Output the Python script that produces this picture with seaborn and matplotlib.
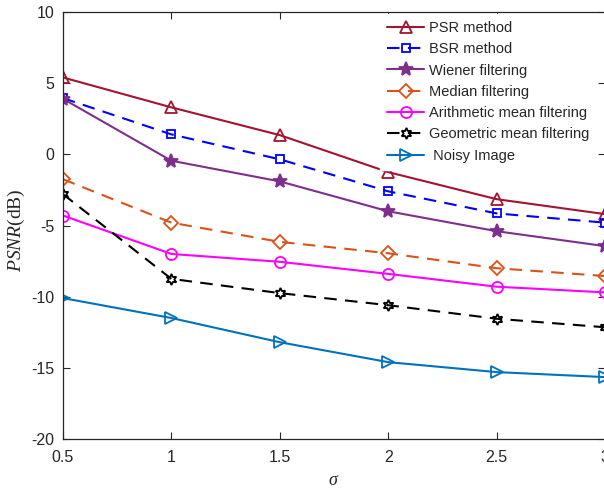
import matplotlib
matplotlib.use("Agg")
import matplotlib.pyplot as plt
import seaborn as sns
import pandas as pd

sigma = [0.5, 1.0, 1.5, 2.0, 2.5, 3.0]
psr = [5.4, 3.3, 1.35, -1.25, -3.15, -4.2]
bsr = [3.95, 1.4, -0.35, -2.6, -4.15, -4.8]
wiener = [3.9, -0.45, -1.9, -4.0, -5.4, -6.45]
median = [-1.75, -4.8, -6.15, -6.95, -8.0, -8.55]
arith = [-4.3, -7.0, -7.55, -8.4, -9.3, -9.7]
geom = [-2.8, -8.75, -9.75, -10.6, -11.55, -12.15]
noisy = [-10.1, -11.5, -13.2, -14.6, -15.3, -15.65]

labels = ["PSR method", "BSR method", "Wiener filtering", "Median filtering",
          "Arithmetic mean filtering", "Geometric mean filtering", " Noisy Image"]
series = [psr, bsr, wiener, median, arith, geom, noisy]
colors = ["#A2142F", "#0000FF", "#7E2F8E", "#D95319", "#FF00FF", "#000000", "#0072BD"]
markers = ["^", "s", "*", "D", "o", (6, 1, 0), ">"]
msizes = [9, 6, 10, 7, 8, 8, 9]
filled = [False, False, True, False, False, False, False]
dashed = [False, True, False, True, False, True, False]

sns.set_style("ticks")
plt.rcParams['font.family'] = ['Liberation Sans', 'DejaVu Sans']
plt.rcParams['mathtext.fontset'] = 'custom'
plt.rcParams['mathtext.rm'] = 'Liberation Serif'
plt.rcParams['mathtext.it'] = 'Liberation Serif:italic'

fig = plt.figure(figsize=(6.04, 4.92), dpi=100)
ax = fig.add_axes([63/604, 1-439/492, 542/604, 427/492])

for lab, ys, c, m, ms, f, d in zip(labels, series, colors, markers, msizes, filled, dashed):
    df = pd.DataFrame({"sigma": sigma, "val": ys})
    sns.lineplot(data=df, x="sigma", y="val", ax=ax, color=c, marker=m,
                 markersize=ms, markeredgewidth=1.3,
                 markerfacecolor=(c if f else "none"), markeredgecolor=c,
                 linewidth=1.5, label=lab,
                 linestyle=(0, (6, 4)) if d else "-")

ax.set_xlim(0.5, 3.0)
ax.set_ylim(-20, 10)
ax.set_xticks([0.5, 1, 1.5, 2, 2.5, 3])
ax.set_xticklabels(["0.5", "1", "1.5", "2", "2.5", "3"])
ax.set_yticks([-20, -15, -10, -5, 0, 5, 10])
ax.set_yticklabels(["-20", "-15", "-10", "-5", "0", "5", "10"])
ax.tick_params(direction="in", top=True, right=True, labelsize=11.5, length=5, width=0.8)
ax.tick_params(axis="x", pad=8)
ax.tick_params(axis="y", pad=6)
for s in ax.spines.values():
    s.set_linewidth(0.9)
    s.set_visible(True)
ax.set_xlabel(r"$\sigma$", fontsize=13, labelpad=5)
ax.set_ylabel(r"$PSNR\mathrm{(dB)}$", fontsize=14, labelpad=0)
ax.yaxis.set_label_coords(-0.066, 0.49)

leg = ax.legend(loc="upper left", bbox_to_anchor=(0.585, 0.996), frameon=True,
                fontsize=10.5, handlelength=2.5, handletextpad=0.35,
                labelspacing=0.5, borderaxespad=0.0, borderpad=0.5, fancybox=False)
leg.get_frame().set_edgecolor("white")
leg.get_frame().set_facecolor("white")
leg.get_frame().set_alpha(1.0)
leg.set_zorder(2)

fig.savefig("out.png", dpi=100)
